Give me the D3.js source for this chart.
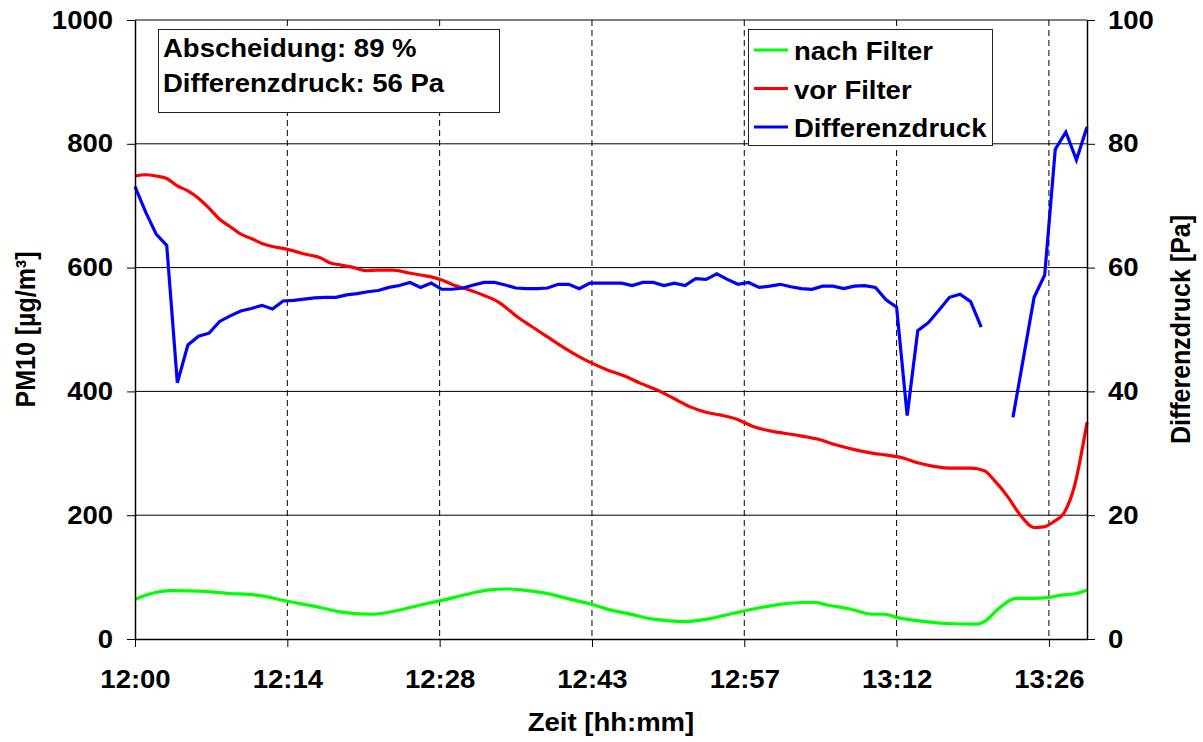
<!DOCTYPE html>
<html>
<head>
<meta charset="utf-8">
<script src="https://cdn.jsdelivr.net/npm/d3@7"></script>
<style>
  body { margin: 0; background: #fff; }
  svg text { font-family: "Liberation Sans", Arial, sans-serif; font-weight: bold; font-size: 25px; fill: #000; }
</style>
</head>
<body>
<svg id="chart" width="1203" height="742"></svg>
<script>
// Differenzdruck [Pa], one reading per minute after 12:00 (null = no reading)
var druckMin = d3.range(0, 91);
var druckPa = [
  73.1, 69.0, 65.4, 63.6, 41.4, 47.5, 48.9, 49.4, 51.3, 52.2,
  53.0, 53.4, 53.9, 53.3, 54.6, 54.7, 54.9, 55.1, 55.2, 55.2,
  55.6, 55.8, 56.1, 56.3, 56.8, 57.1, 57.6, 56.8, 57.5, 56.5,
  56.5, 56.7, 57.2, 57.6, 57.6, 57.2, 56.7, 56.6, 56.6, 56.7,
  57.3, 57.3, 56.6, 57.5, 57.5, 57.5, 57.5, 57.1, 57.6, 57.6,
  57.1, 57.5, 57.1, 58.2, 58.1, 59.0, 58.1, 57.3, 57.6, 56.8,
  57.0, 57.3, 56.9, 56.6, 56.5, 57.0, 57.0, 56.6, 57.0, 57.1,
  56.8, 54.8, 53.6, 36.1, 49.8, 51.1, 53.1, 55.2, 55.7, 54.5,
  50.4, null, null, 35.8, 45.5, 55.2, 58.8, 79.1, 81.9, 77.4,
  82.7
];

// PM10 vor Filter [µg/m³]
var vorMin = [0, 1, 2, 3, 4, 5, 6, 7, 8, 9, 10, 11, 12, 13, 14, 15, 16, 17.5, 18.4, 19.5,
  20.7, 21.8, 22.9, 24.4, 25.7, 27, 28, 29, 30.1, 31.4, 33, 34.4, 36.1, 37.4, 39, 40.5,
  42.1, 43.4, 44.6, 46.4, 47.8, 49.4, 50.9, 52.5, 53.8, 55.3, 56.9, 58.5, 60.4, 62.3,
  64.5, 66.4, 68, 69.8, 71.1, 72.7, 73.9, 75.5, 77.4, 79, 80.3, 81.2, 82.5, 83.7, 85,
  85.9, 86.9, 87.8, 88.8, 90];
var vorPM = [748, 750, 748, 744, 732, 724, 712, 696, 678, 666, 654, 647, 639, 634, 631, 627, 622, 616, 608, 604,
  600, 595, 596, 596, 592, 588, 585, 580, 572, 565, 555, 544, 521, 506, 488, 471,
  455, 444, 435, 424, 413, 402, 389, 375, 367, 362, 355, 343, 335, 330,
  323, 313, 306, 300, 297, 292, 285, 279, 276, 276, 272, 257, 230, 200, 180,
  181, 190, 203, 246, 350];

// PM10 nach Filter [µg/m³]
var nachMin = [0, 1.4, 3.5, 6.1, 8.7, 11.5, 14.3, 17.2, 19.7, 22.5, 24.8, 27, 28.9, 31.1, 33.3,
  35.2, 36.7, 38.9, 41.2, 43.4, 44.9, 46.5, 49, 51.9, 54.4, 56.6, 58.8, 61, 62.9, 64.3,
  65.4, 67.6, 69.7, 70.8, 72.1, 73.9, 76.8, 79.6, 80.3, 81.5, 83.3, 84.7, 86.3, 87.5, 88.8, 90];
var nachPM = [64, 72.7, 78, 77.5, 73.8, 71, 61.4, 52, 43, 40, 46, 55, 62, 71, 79,
  80.8, 79, 73.8, 64, 55, 47, 41.5, 32, 28, 33, 41.5, 49.6, 56, 59, 59,
  55, 48.5, 40, 40, 34.5, 29.6, 25, 24, 28, 47, 65.7, 65.7, 66.7, 71, 72.7, 79];

// axes
var xTickMin = [0, 14.4, 28.8, 43.2, 57.6, 72, 86.4];   // every 0.01 day
var leftTicks = [0, 200, 400, 600, 800, 1000];
var rightTicks = [0, 20, 40, 60, 80, 100];
var legendNames = ['nach Filter', 'vor Filter', 'Differenzdruck'];
var legendColors = ['#00ff00', '#ff0000', '#0000ff'];
var infoLines = ['Abscheidung: 89 %', 'Differenzdruck: 56 Pa'];

var L = 135, R = 1087, T = 20, B = 639;
var t0 = new Date(2000, 0, 1, 12, 0);
function toDate(m) { return new Date(t0.getTime() + m * 60000); }

var svg_ = d3.select('#chart');

var x_ = d3.scaleTime().domain([toDate(0), toDate(90)]).range([L, R]);
var yL_ = d3.scaleLinear().domain([0, 1000]).range([B, T]);
var yR_ = d3.scaleLinear().domain([0, 100]).range([B, T]);

// horizontal grid
svg_.append('g').selectAll('line')
  .data(leftTicks.slice(1))
  .enter().append('line')
    .attr('x1', L).attr('x2', R)
    .attr('y1', function(d) { return yL_(d); })
    .attr('y2', function(d) { return yL_(d); })
    .attr('stroke', '#000').attr('stroke-width', 1);

// vertical dashed grid
svg_.append('g').selectAll('line')
  .data(xTickMin.slice(1))
  .enter().append('line')
    .attr('x1', function(d) { return x_(toDate(d)); })
    .attr('x2', function(d) { return x_(toDate(d)); })
    .attr('y1', T).attr('y2', B)
    .attr('stroke', '#000').attr('stroke-width', 1)
    .attr('stroke-dasharray', '6,4');

// series
var nachLine = d3.line()
  .x(function(d, i) { return x_(toDate(nachMin[i])); })
  .y(function(d) { return yL_(d); })
  .curve(d3.curveMonotoneX);
var vorLine = d3.line()
  .x(function(d, i) { return x_(toDate(vorMin[i])); })
  .y(function(d) { return yL_(d); })
  .curve(d3.curveMonotoneX);
var druckLine = d3.line()
  .defined(function(d) { return d != null; })
  .x(function(d, i) { return x_(toDate(druckMin[i])); })
  .y(function(d) { return yR_(d); });

svg_.append('path').datum(nachPM)
  .attr('d', nachLine).attr('fill', 'none')
  .attr('stroke', legendColors[0]).attr('stroke-width', 3.2);
svg_.append('path').datum(vorPM)
  .attr('d', vorLine).attr('fill', 'none')
  .attr('stroke', legendColors[1]).attr('stroke-width', 3.2);
svg_.append('path').datum(druckPa)
  .attr('d', druckLine).attr('fill', 'none')
  .attr('stroke', legendColors[2]).attr('stroke-width', 3.2)
  .attr('stroke-linejoin', 'miter');

// axes
var axL = svg_.append('g')
  .attr('transform', 'translate(' + L + ',0)')
  .call(d3.axisLeft(yL_).tickValues(leftTicks).tickFormat(d3.format('d'))
    .tickSize(8).tickSizeOuter(0).tickPadding(12));
var axR = svg_.append('g')
  .attr('transform', 'translate(' + R + ',0)')
  .call(d3.axisRight(yR_).tickValues(rightTicks).tickFormat(d3.format('d'))
    .tickSize(8).tickSizeOuter(0).tickPadding(11));
var axB = svg_.append('g')
  .attr('transform', 'translate(0,' + B + ')')
  .call(d3.axisBottom(x_).tickValues(xTickMin.map(toDate))
    .tickFormat(d3.timeFormat('%H:%M')).tickSize(8).tickSizeOuter(0).tickPadding(23));

[axL, axR, axB].forEach(function(ax) {
  ax.selectAll('path.domain').attr('stroke', '#000').attr('stroke-width', 1.5);
  ax.selectAll('line').attr('stroke', '#000').attr('stroke-width', 1);
  ax.selectAll('text')
    .attr('font-size', null).attr('font-family', null)
    .attr('transform', 'scale(1.1,1)');
});

// info box
var info = svg_.append('g');
info.append('rect')
  .attr('x', 158.5).attr('y', 29.5).attr('width', 341).attr('height', 83)
  .attr('fill', '#fff').attr('stroke', '#222').attr('stroke-width', 1);
info.selectAll('text')
  .data(infoLines)
  .enter().append('text')
    .attr('transform', function(d, i) { return 'translate(163,' + (57 + i * 35) + ') scale(1.1,1)'; })
    .text(function(d) { return d; });

// legend
var leg = svg_.append('g');
leg.append('rect')
  .attr('x', 748.5).attr('y', 29.5).attr('width', 244).attr('height', 116)
  .attr('fill', '#fff').attr('stroke', '#222').attr('stroke-width', 1);
var items = leg.selectAll('g.item')
  .data(legendNames)
  .enter().append('g')
    .attr('class', 'item')
    .attr('transform', function(d, i) { return 'translate(0,' + (50 + i * 38.5) + ')'; });
items.append('line')
  .attr('x1', 754).attr('x2', 788).attr('y1', 0).attr('y2', 0)
  .attr('stroke', function(d, i) { return legendColors[i]; })
  .attr('stroke-width', 3.2);
items.append('text')
  .attr('transform', 'translate(794,10) scale(1.1,1)')
  .text(function(d) { return d; });

// axis titles
svg_.append('text')
  .attr('text-anchor', 'middle')
  .attr('transform', 'translate(' + ((L + R) / 2) + ',731) scale(1.1,1)')
  .text('Zeit [hh:mm]');
svg_.append('text')
  .attr('text-anchor', 'middle')
  .attr('transform', 'translate(35,' + ((T + B) / 2) + ') rotate(-90) scale(1,1.1)')
  .text('PM10 [µg/m³]');
svg_.append('text')
  .attr('text-anchor', 'middle')
  .attr('transform', 'translate(1190,' + ((T + B) / 2) + ') rotate(-90) scale(1,1.1)')
  .text('Differenzdruck [Pa]');
</script>
</body>
</html>
